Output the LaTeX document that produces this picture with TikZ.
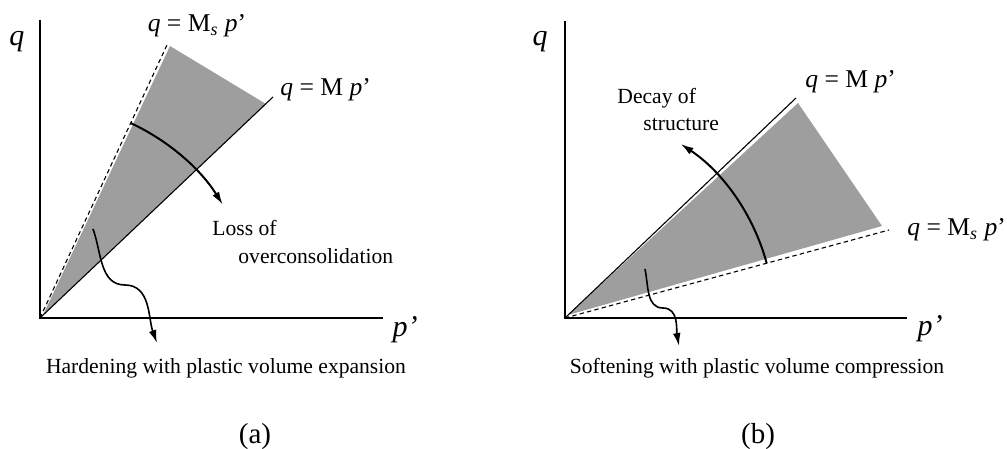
\documentclass[tikz,border=0pt]{standalone}
\usepackage{fontspec}
\setmainfont{Liberation Serif}
\usetikzlibrary{arrows.meta,calc}
\tikzset{
  axisline/.style={line width=0.7pt},
  critline/.style={line width=0.55pt},
  sline/.style={line width=0.55pt,dash pattern=on 2.2pt off 1.6pt},
  zone/.style={fill=black!38,draw=none},
  turnarrow/.style={line width=1pt,-{Latex[length=6.5pt,width=3.8pt]}},
  wavyarrow/.style={line width=0.8pt,-{Latex[length=6.5pt,width=3.8pt]}},
  lbl/.style={inner sep=0pt,font=\fontsize{10.8}{13}\selectfont},
  eqn/.style={inner sep=0pt,font=\fontsize{12.8}{15}\selectfont},
  axlbl/.style={inner sep=0pt,font=\fontsize{15}{17}\selectfont\itshape},
  panel/.style={inner sep=0pt,font=\fontsize{14.5}{17}\selectfont},
}
\begin{document}
\begin{tikzpicture}[x=0.5pt,y=0.5pt,>=Latex]
  \useasboundingbox (0,0) rectangle (1007,449);
  % (a) hardening side
  \coordinate (Oa) at (40,131);
  \coordinate (Ya) at (40,429);
  \coordinate (Xa) at (383,131);
  \coordinate (Msa) at (167,404);
  \coordinate (Ma) at (273,352);
  \fill[zone] (43,134)--(170,403)--(266,345)--cycle;
  \draw[axisline] (Ya)--(Oa)--(Xa);
  \draw[sline] (Oa)--(Msa);
  \draw[critline] (Oa)--(Ma);
  \node[axlbl] (qa) at (17,407) {q};
  \node[axlbl] (pa) at (405,119) {p’};
  \node[eqn] (eqMsa) at (197,423) {\textit{q} = M\textsubscript{\textit{s}} \textit{p}’};
  \node[eqn,anchor=west] (eqMa) at (280,359) {\textit{q} = M \textit{p}’};
  \coordinate (arcA) at ($(Oa)+(65.05:215)$);
  \draw[turnarrow] (arcA) arc[start angle=65.05,end angle=31.8,radius=215];
  \node[lbl,anchor=west] (lossA) at (212,221) {Loss of};
  \node[lbl,anchor=west] (lossB) at (238,193) {overconsolidation};
  \coordinate (wa1) at (93,220);
  \coordinate (wa2) at (125,164);
  \coordinate (wa3) at (157,106);
  \draw[wavyarrow] (wa1) to[out=-70,in=180] (wa2) to[out=0,in=110] (wa3);
  \node[lbl] (harden) at (226,81) {Hardening with plastic volume expansion};
  \node[panel] (pna) at (255,12) {(a)};
  % (b) softening side
  \coordinate (Ob) at (565,131);
  \coordinate (Yb) at (565,428);
  \coordinate (Xb) at (907,131);
  \coordinate (Mb) at (796,351);
  \coordinate (Msb) at (889,219);
  \fill[zone] (568,134)--(798,346)--(882,223)--cycle;
  \draw[axisline] (Yb)--(Ob)--(Xb);
  \draw[sline] (Ob)--(Msb);
  \draw[critline] (Ob)--(Mb);
  \node[axlbl] (qb) at (540,407) {q};
  \node[axlbl] (pb) at (930,120) {p’};
  \node[eqn,anchor=west] (eqMb) at (805,367) {\textit{q} = M \textit{p}’};
  \node[eqn,anchor=west] (eqMsb) at (907,219) {\textit{q} = M\textsubscript{\textit{s}} \textit{p}’};
  \coordinate (arcB) at ($(Ob)+(15.2:209)$);
  \draw[turnarrow] (arcB) arc[start angle=15.2,end angle=56.4,radius=209];
  \node[lbl,anchor=west] (decayA) at (617,351) {Decay of};
  \node[lbl,anchor=west] (decayB) at (643,324) {structure};
  \coordinate (wb1) at (645,180);
  \coordinate (wb2) at (663,141);
  \coordinate (wb3) at (679,103);
  \draw[wavyarrow] (wb1) to[out=-78,in=180] (wb2) to[out=0,in=100] (wb3);
  \node[lbl] (soften) at (757,81) {Softening with plastic volume compression};
  \node[panel] (pnb) at (758,12) {(b)};
\end{tikzpicture}
\end{document}
